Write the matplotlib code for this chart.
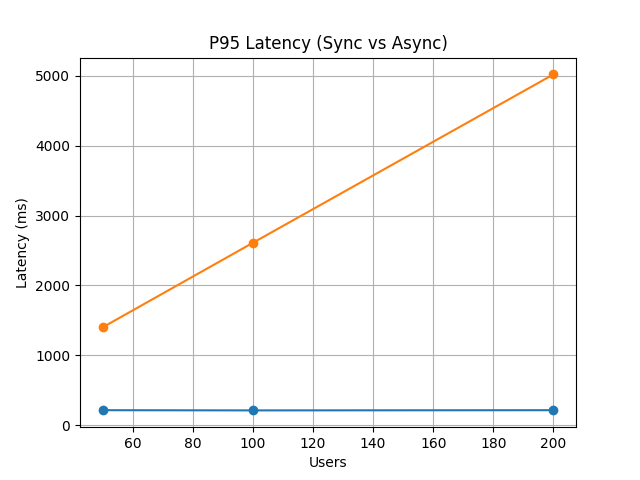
import matplotlib
matplotlib.use("Agg")
from matplotlib import pyplot as plt

users = [50, 100, 200]
sync_p95 = [1400, 2610, 5020]
async_p95 = [215, 212, 215]

fig, ax = plt.subplots(figsize=(6.4, 4.8), dpi=100)
ax.plot(users, async_p95, marker="o")
ax.plot(users, sync_p95, marker="o")
ax.set_title("P95 Latency (Sync vs Async)")
ax.set_xlabel("Users")
ax.set_ylabel("Latency (ms)")
ax.grid(True)
fig.savefig("out.png")
